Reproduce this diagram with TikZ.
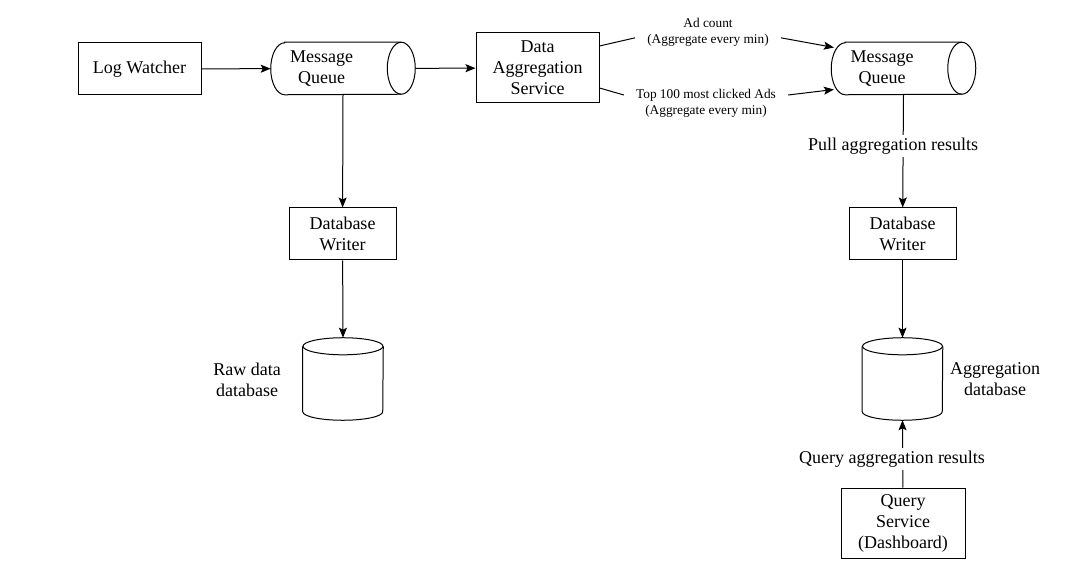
\documentclass[tikz,border=0pt]{standalone}
\usepackage{fontspec}
\setmainfont{Liberation Serif}
\usetikzlibrary{arrows.meta}

\tikzset{
  box/.style={draw, line width=0.75pt, align=center, inner sep=0pt,
    font=\fontsize{13.5}{15.75}\selectfont},
  queue/.style={minimum width=108pt, minimum height=39pt, inner sep=0pt,
    label={[align=center, xshift=-16pt, font=\fontsize{13.5}{15.75}\selectfont]center:#1}},
  store/.style={minimum width=60pt, minimum height=61.5pt, inner sep=0pt},
  lbl/.style={align=center, fill=white, inner sep=2pt,
    font=\fontsize{13.5}{15.75}\selectfont},
  edgelbl/.style={align=center, fill=white, inner xsep=9pt, inner ysep=1pt,
    font=\fontsize{10}{12}\selectfont},
  link/.style={line width=0.75pt, -{Stealth[length=7.5pt,width=6pt,inset=1.5pt]}},
  plain/.style={line width=0.75pt},
}
% outlines of the two cylinder kinds
\newcommand{\drawqueue}[1]{%
  \draw[plain] ([xshift=10.5pt]#1.north west) -- ([xshift=-10.5pt]#1.north east)
    arc[start angle=90, end angle=-90, x radius=10.5pt, y radius=19.5pt]
    -- ([xshift=10.5pt]#1.south west)
    arc[start angle=270, end angle=90, x radius=10.5pt, y radius=19.5pt] -- cycle;
  \draw[plain] ([xshift=-10.5pt]#1.north east)
    arc[start angle=90, end angle=270, x radius=10.5pt, y radius=19.5pt];}
\newcommand{\drawstore}[1]{%
  \draw[plain] ([yshift=-6.4pt]#1.north west) -- ([yshift=6.4pt]#1.south west)
    arc[start angle=180, end angle=360, x radius=30pt, y radius=6.4pt]
    -- ([yshift=-6.4pt]#1.north east);
  \draw[plain] ([yshift=-6.4pt]#1.north) ellipse[x radius=30pt, y radius=6.4pt];}

\begin{document}
\begin{tikzpicture}[x=0.75pt,y=-0.75pt]
\useasboundingbox (0,0) rectangle (1085,570);
% ingestion side
\node[box, minimum width=92.25pt, minimum height=39pt] (logw) at (139.5,69) {Log Watcher};
\node[queue={Message\\Queue}] (mqA) at (343,68.5) {};
\drawqueue{mqA}
\node[box, minimum width=92.25pt, minimum height=52.5pt] (das) at (537.5,68) {Data\\Aggregation\\Service};
\node[box, minimum width=80.25pt, minimum height=39pt] (dwA) at (342.5,234) {Database\\Writer};
\node[store] (dbA) at (343,379) {};
\drawstore{dbA}
\node[lbl] (rawlbl) at (247,379.5) {Raw data\\database};
% aggregation side
\node[queue={Message\\Queue}] (mqB) at (903.5,68.5) {};
\drawqueue{mqB}
\node[box, minimum width=80.25pt, minimum height=39pt] (dwB) at (902.5,234) {Database\\Writer};
\node[store] (dbB) at (902.5,379) {};
\drawstore{dbB}
\node[lbl] (agglbl) at (995,379.5) {Aggregation\\database};
\node[box, minimum width=93pt, minimum height=52.5pt] (qs) at (903,523) {Query\\Service\\(Dashboard)};
\node[edgelbl] (cntlbl) at (708,32.5) {Ad count\\(Aggregate every min)};
\node[edgelbl] (toplbl) at (706,103) {Top 100 most clicked Ads\\(Aggregate every min)};

\draw[link] (logw) -- (mqA);
\draw[link] (mqA) -- (das);
\draw[link] (mqA.south) -- (dwA);
\draw[link] (dwA) -- (dbA.north);
\draw[plain] ([yshift=16.5pt]das.east) -- ([yshift=-4pt]cntlbl.west);
\draw[link] ([yshift=-4pt]cntlbl.east) -- ([xshift=2pt,yshift=15.75pt]mqB.west);
\draw[plain] ([yshift=-15pt]das.east) -- ([yshift=6pt]toplbl.west);
\draw[link] ([yshift=6pt]toplbl.east) -- ([xshift=2pt,yshift=-15.75pt]mqB.west);
\draw[link] (mqB.south) -- (dwB);
\node[lbl] (pulllbl) at (893,146) {Pull aggregation results};
\draw[link] (dwB) -- (dbB.north);
\draw[link] (qs) -- (dbB.south);
\node[lbl] (qrylbl) at (892,459) {Query aggregation results};
\end{tikzpicture}
\end{document}
